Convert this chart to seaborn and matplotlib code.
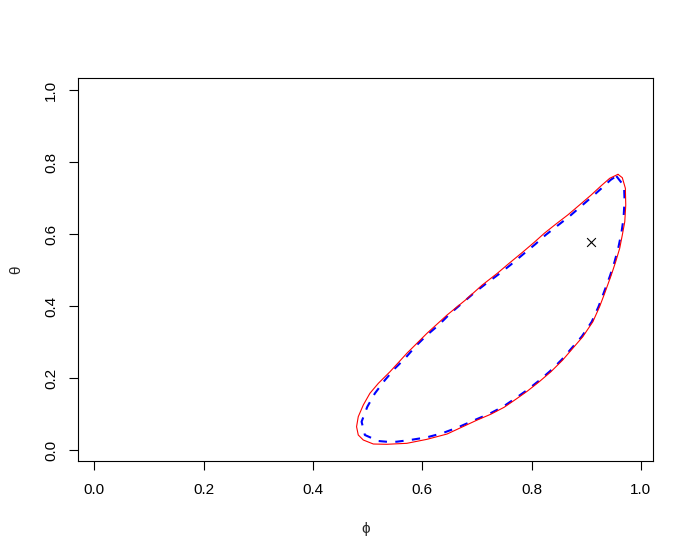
import numpy as np
import pandas as pd
import seaborn as sns
import matplotlib.pyplot as plt

# outer contour (red, solid), clockwise from the tip
red_phi = [0.9582, 0.9661, 0.9717, 0.9724, 0.9706, 0.9661, 0.9613, 0.9540, 0.9459, 0.9338,
           0.9245, 0.9122, 0.8938, 0.8754, 0.8570, 0.8355, 0.8141, 0.7926, 0.7711, 0.7497,
           0.7251, 0.7006, 0.6454, 0.6086, 0.5718, 0.5350, 0.5105, 0.4921, 0.4829, 0.4798,
           0.4829, 0.4921, 0.5042, 0.5197, 0.5410, 0.5718, 0.6086, 0.6454, 0.6791, 0.7098,
           0.7374, 0.7589, 0.7834, 0.8049, 0.8233, 0.8447, 0.8662, 0.8877, 0.9091, 0.9275,
           0.9430]
red_theta = [0.7660, 0.7566, 0.7272, 0.6808, 0.6345, 0.5976, 0.5606, 0.5235, 0.4865, 0.4357,
             0.3986, 0.3569, 0.3153, 0.2831, 0.2506, 0.2182, 0.1904, 0.1646, 0.1415, 0.1193,
             0.0999, 0.0841, 0.0452, 0.0305, 0.0194, 0.0167, 0.0175, 0.0286, 0.0425, 0.0655,
             0.0933, 0.1257, 0.1582, 0.1860, 0.2182, 0.2692, 0.3247, 0.3755, 0.4172, 0.4588,
             0.4913, 0.5190, 0.5495, 0.5773, 0.6023, 0.6281, 0.6531, 0.6808, 0.7086, 0.7344,
             0.7549]

# inner contour (blue, dashed)
blue_phi = [0.9551, 0.9693, 0.9702, 0.9684, 0.9647, 0.9591, 0.9518, 0.9435, 0.9318, 0.9225,
            0.9102, 0.8920, 0.8737, 0.8552, 0.8338, 0.8125, 0.7910, 0.7695, 0.7480, 0.7235,
            0.6990, 0.6638, 0.6362, 0.6086, 0.5778, 0.5534, 0.5410, 0.5197, 0.4950, 0.4890,
            0.4995, 0.5134, 0.5318, 0.5502, 0.5686, 0.5883, 0.6086, 0.6301, 0.6515, 0.6761,
            0.6969, 0.7159, 0.7392, 0.7613, 0.7852, 0.8073, 0.8257, 0.8478, 0.8690, 0.8901,
            0.9113, 0.9297, 0.9444]
blue_theta = [0.7613, 0.7336, 0.6947, 0.6447, 0.6059, 0.5643, 0.5226, 0.4838, 0.4357, 0.3986,
              0.3569, 0.3160, 0.2840, 0.2515, 0.2195, 0.1918, 0.1662, 0.1432, 0.1212, 0.1018,
              0.0860, 0.0627, 0.0472, 0.0361, 0.0286, 0.0239, 0.0230, 0.0258, 0.0425, 0.0794,
              0.1210, 0.1582, 0.1951, 0.2276, 0.2553, 0.2895, 0.3200, 0.3478, 0.3802, 0.4124,
              0.4394, 0.4616, 0.4879, 0.5143, 0.5448, 0.5726, 0.5976, 0.6239, 0.6489, 0.6767,
              0.7044, 0.7294, 0.7502]

# point estimate
est_phi = [0.909]
est_theta = [0.578]

ticks = [0.0, 0.2, 0.4, 0.6, 0.8, 1.0]
tick_labels = ["0.0", "0.2", "0.4", "0.6", "0.8", "1.0"]


def closed(xs, ys):
    """close the loop so the contour is drawn all the way round"""
    return pd.DataFrame({'phi': list(xs) + [xs[0]], 'theta': list(ys) + [ys[0]]})


sns.set_style('white')
plt.rcParams['font.family'] = ['Liberation Sans', 'DejaVu Sans']

fig = plt.figure(figsize=(6.94, 5.59), dpi=100)
ax = fig.add_axes([78.3 / 694, (559 - 461.3) / 559, 575 / 694, 383 / 559])

blue = closed(blue_phi, blue_theta)
red = closed(red_phi, red_theta)
sns.lineplot(data=blue, x='phi', y='theta', sort=False, estimator=None,
             color='blue', linewidth=1.5, linestyle=(0, (4, 4)), ax=ax)
sns.lineplot(data=red, x='phi', y='theta', sort=False, estimator=None,
             color='red', linewidth=0.8, ax=ax)
sns.scatterplot(x=est_phi, y=est_theta, marker='x', color='black', s=40,
                linewidth=0.8, ax=ax, zorder=5)

ax.set_xlim(-0.0294, 1.0228)
ax.set_ylim(-0.0305, 1.0325)
ax.set_xticks(ticks)
ax.set_xticklabels(tick_labels)
ax.set_yticks(ticks)
ax.set_yticklabels(tick_labels, rotation=90, va='center')

for s in ax.spines.values():
    s.set_visible(True)
    s.set_color('black')
    s.set_linewidth(0.8)
ax.tick_params(axis='both', direction='out', length=6.5, width=0.8, color='black',
               labelsize=11, labelcolor='black', bottom=True, left=True)
ax.tick_params(axis='x', pad=9)
ax.tick_params(axis='y', pad=8)

ax.set_xlabel('ϕ', fontsize=11, labelpad=18)
ax.set_ylabel('θ', fontsize=11, labelpad=15)

plt.savefig('out.png', dpi=100)
